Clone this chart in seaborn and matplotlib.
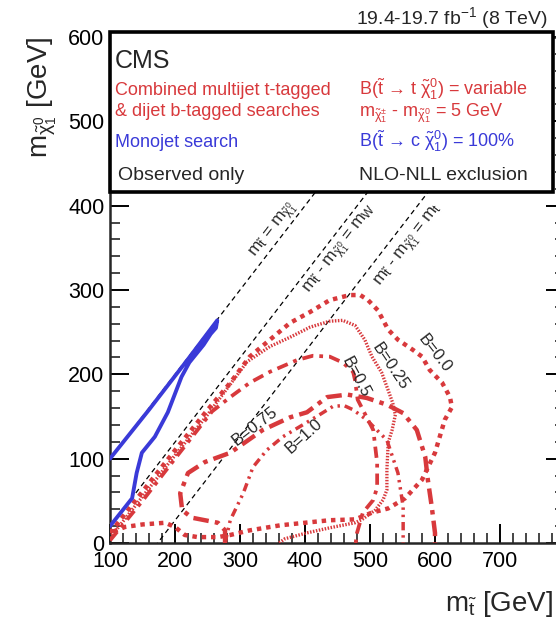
import numpy as np
import pandas as pd
import matplotlib
matplotlib.use("Agg")
import matplotlib.pyplot as plt
from matplotlib.patches import Rectangle
from matplotlib.ticker import MultipleLocator
import seaborn as sns

sns.set_style("ticks")
plt.rcParams['font.family'] = ['Liberation Sans', 'DejaVu Sans']
plt.rcParams['mathtext.fontset'] = 'custom'
plt.rcParams['mathtext.rm'] = 'Liberation Sans'
plt.rcParams['mathtext.it'] = 'Liberation Sans'
plt.rcParams['mathtext.sf'] = 'Liberation Sans'
plt.rcParams['mathtext.bf'] = 'Liberation Sans:bold'

RED = "#d8393c"
BLUE = "#3a3ad8"

# monojet search, observed limit (open path, both ends on the y axis)
mono_x = [100, 160, 220, 265, 263, 255, 244, 222, 210, 189, 169, 149, 141, 134, 100]
mono_y = [100, 158, 218, 264, 255, 248, 235, 214, 197, 155, 126, 107, 83, 53, 20]

# combined multijet/dijet searches, one contour per branching fraction
b00_x = [100, 150, 200, 246, 285, 315, 346, 377, 408, 438, 469, 485, 497, 512, 528, 543, 566, 580, 592,
         611, 623, 626, 615, 600, 580, 554, 528, 503, 477, 438, 362, 315, 285, 266, 235, 215, 200, 185,
         150, 123, 100]
b00_y = [12, 61, 110, 154, 190, 221, 241, 261, 274, 288, 294, 294, 288, 276, 253, 241, 229, 221, 205,
         190, 173, 161, 146, 107, 75, 53, 41, 36, 28, 27, 21, 15, 9.5, 7, 7, 9.5, 19, 24,
         22, 19, 12]

b025_x = [100, 150, 200, 250, 280, 311, 346, 377, 408, 438, 458, 477, 492, 503, 518, 528, 535, 539, 534,
          528, 526, 526, 520, 508, 488, 477, 438, 403, 369, 360]
b025_y = [6, 55, 104, 152, 183, 215, 233, 244, 256, 263, 264, 258, 241, 221, 202, 181, 166, 152, 134,
          119, 87, 63, 51, 39, 28, 24, 18, 12, 5, 0]

b05_x = [100, 150, 200, 257, 285, 315, 346, 388, 412, 438, 458, 474, 477, 481, 495, 505, 511, 511, 505,
         489, 480, 478]
b05_y = [3, 50, 100, 156, 173, 190, 203, 217, 222, 221, 214, 203, 193, 170, 149, 134, 95, 66, 51,
         36, 12, 0]

b075_x = [277, 277, 266, 226, 211, 208, 220, 246, 285, 335, 377, 403, 434, 465, 495, 526, 551, 572, 585,
          589, 595, 600, 600]
b075_y = [0, 15, 24, 30, 39, 59, 83, 96, 107, 134, 149, 155, 173, 176, 172, 164, 154, 134, 102,
          75, 43, 12, 0]

b10_x = [277, 285, 305, 320, 341, 366, 392, 418, 443, 460, 474, 495, 526, 543, 551, 551]
b10_y = [0, 27, 59, 90, 110, 126, 138, 150, 162, 163, 158, 146, 122, 83, 43, 0]

b_names = ["0.0", "0.25", "0.5", "0.75", "1.0"]
b_xs = [b00_x, b025_x, b05_x, b075_x, b10_x]
b_ys = [b00_y, b025_y, b05_y, b075_y, b10_y]

# kinematic boundaries: m_stop - m_lsp = 0, m_W, m_top
diag_offsets = [0.0, 80.4, 173.2]

frames = []
for name, xs, ys in zip(b_names, b_xs, b_ys):
    frames.append(pd.DataFrame({"mstop": xs, "mlsp": ys, "B": name}))
df = pd.concat(frames, ignore_index=True)
mono = pd.DataFrame({"mstop": mono_x, "mlsp": mono_y})

fig = plt.figure(figsize=(5.56, 6.22), dpi=100)
ax = fig.add_axes([110 / 556, 79 / 622, 455 / 556, 506 / 622])

# dashed diagonals
xline = np.array([0, 800])
for off in diag_offsets:
    ax.plot(xline, xline - off, color="black", lw=0.9, dashes=(4, 3), zorder=1)

dash_map = {"0.0": (1.0, 1.1), "0.25": (0.45, 0.45), "0.5": (3.0, 1.6, 1.0, 1.6),
            "0.75": (3.5, 1.4, 1.0, 1.4), "1.0": (2.4, 1.4, 0.7, 1.4, 0.7, 1.4)}
size_map = {"0.0": 3.2, "0.25": 2.4, "0.5": 2.7, "0.75": 3.2, "1.0": 2.5}
sns.lineplot(data=df, x="mstop", y="mlsp", hue="B", style="B", size="B",
             palette={k: RED for k in b_names}, dashes=dash_map, sizes=size_map,
             sort=False, estimator=None, legend=False, ax=ax, zorder=3)

sns.lineplot(data=mono, x="mstop", y="mlsp", color=BLUE, lw=2.8, sort=False,
             estimator=None, ax=ax, zorder=4)

ax.set_xlim(100, 800)
ax.set_ylim(0, 600)
ax.xaxis.set_minor_locator(MultipleLocator(20))
ax.yaxis.set_major_locator(MultipleLocator(100))
ax.yaxis.set_minor_locator(MultipleLocator(20))
ax.set_xticks(range(100, 801, 100))
ax.set_xticklabels([str(v) if v < 800 else "" for v in range(100, 801, 100)])
ax.tick_params(which="major", direction="in", length=14, width=1.4, right=True, top=False,
               labelsize=15.5, colors="black")
ax.tick_params(which="minor", direction="in", length=7, width=1.2, right=True, top=False)
ax.tick_params(axis="x", pad=6)
ax.tick_params(axis="y", pad=4)
for s in ax.spines.values():
    s.set_linewidth(1.8)
ax.set_xlabel("")
ax.set_ylabel("")

# header box
ax.add_patch(Rectangle((100, 416), 681.5, 190, facecolor="white", edgecolor="black",
                       lw=2.6, zorder=6, clip_on=False))
ax.text(107.7, 563, "CMS", fontsize=18, zorder=7)
ax.text(107.7, 531, "Combined multijet t-tagged", fontsize=13, color=RED, zorder=7)
ax.text(107.7, 506, "& dijet b-tagged searches", fontsize=13, color=RED, zorder=7)
ax.text(107.7, 470, "Monojet search", fontsize=13, color=BLUE, zorder=7)
ax.text(112, 430, "Observed only", fontsize=14, zorder=7)
ax.text(483, 531, "B($\\tilde{\\mathrm{t}}$ \u2192 t $\\tilde{\\chi}^{0}_{1}$) = variable",
        fontsize=13, color=RED, zorder=7)
ax.text(483, 506, r"m$_{\tilde{\chi}^{\pm}_{1}}$ - m$_{\tilde{\chi}^{0}_{1}}$ = 5 GeV",
        fontsize=13, color=RED, zorder=7)
ax.text(483, 470, "B($\\tilde{\\mathrm{t}}$ \u2192 c $\\tilde{\\chi}^{0}_{1}$) = 100%",
        fontsize=13, color=BLUE, zorder=7)
ax.text(483, 430, "NLO-NLL exclusion", fontsize=14, zorder=7)

# diagonal labels
diag_kw = dict(fontsize=12.5, rotation=52.4, ha="center", va="center", rotation_mode="anchor", zorder=5)
ax.text(352, 371, r"m$_{\tilde{\mathrm{t}}}$ = m$_{\tilde{\chi}^{0}_{1}}$", **diag_kw)
ax.text(455, 348, r"m$_{\tilde{\mathrm{t}}}$ - m$_{\tilde{\chi}^{0}_{1}}$ = m$_{\mathrm{W}}$", **diag_kw)
ax.text(560, 353, r"m$_{\tilde{\mathrm{t}}}$ - m$_{\tilde{\chi}^{0}_{1}}$ = m$_{\mathrm{t}}$", **diag_kw)

# contour labels
lab_kw = dict(fontsize=12, ha="center", va="center", rotation_mode="anchor", zorder=5)
ax.text(600, 225, "B=0.0", rotation=-52, **lab_kw)
ax.text(531, 209, "B=0.25", rotation=-56, **lab_kw)
ax.text(478, 197, "B=0.5", rotation=-62, **lab_kw)
ax.text(322, 139, "B=0.75", rotation=38, **lab_kw)
ax.text(398, 127, "B=1.0", rotation=42, **lab_kw)

fig.text(548 / 556, 1 - 24 / 622, r"19.4-19.7 fb$^{-1}$ (8 TeV)", fontsize=14, ha="right", va="baseline")
fig.text(553 / 556, 1 - 611 / 622, r"m$_{\tilde{\mathrm{t}}}$ [GeV]", fontsize=20, ha="right", va="baseline")
fig.text(42 / 556, 1 - 37 / 622, r"m$_{\tilde{\chi}^{0}_{1}}$ [GeV]", fontsize=20, rotation=90,
         ha="center", va="top")

fig.savefig("out.png", dpi=100)
